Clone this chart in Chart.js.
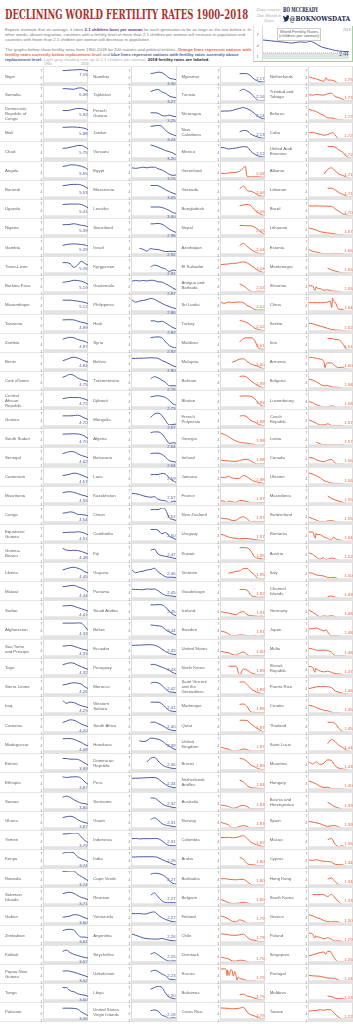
<!DOCTYPE html>
<html>
<head>
<meta charset="utf-8">
<script src="https://cdn.jsdelivr.net/npm/chart.js@4.4.1/dist/chart.umd.min.js"></script>
<style>
    body { margin: 0; width: 353px; height: 1024px; position: relative; overflow: hidden; background: #fff;
           font-family: "Liberation Sans", Arial, sans-serif; }
    .abs { position: absolute; white-space: nowrap; transform-origin: 0 0; }
    #title { left: 5px; top: 8px; font: bold 12px "DejaVu Serif"; color: #a8322b; }
    #source { left: 256px; top: 7px; width: 26px; text-align: center; font: italic 4.4px/5.6px "Liberation Sans"; color: #aaa; white-space: normal; }
    #author1 { left: 283px; top: 5px; font: bold 7px "DejaVu Serif Condensed"; color: #1d2b4c; }
    #author2 { left: 283px; top: 13px; font: bold 8px "DejaVu Serif Condensed"; color: #1d2b4c; }
    .intro { left: 5px; font-size: 4.3px; line-height: 5.2px; color: #7a7a7a; }
    #world { position: absolute; left: 253px; top: 26px; width: 98px; height: 35px;
             border-left: 1px solid #ddd; border-right: 1px solid #9fd49f; border-bottom: 1px solid #9fd49f; }
    #worldTitle { left: 277px; top: 28px; width: 42px; padding: 0.5px 0; border: 1px solid #ccc; background: #fff;
                  text-align: center; font-size: 4.3px; line-height: 4.8px; color: #666; }
    .cell { position: absolute; width: 88.25px; height: 19.12px; box-sizing: border-box;
            border-bottom: 1px solid #e6e6e6; border-right: 1px solid #dcdcdc; }
    .name { position: absolute; left: 5px; top: 0; height: 18px; width: 34px; display: flex; align-items: center;
            font-size: 4.3px; line-height: 5px; color: #666; white-space: pre-line; }
    .cell canvas { position: absolute; left: 37px; top: 0; }
    .yr { position: absolute; top: 62px; font-size: 3.4px; color: #999; }
</style>
</head>
<body>
<div id="title" class="abs">DECLINING WORLD FERTILITY RATES 1900–2018</div>
<div id="source" class="abs">Data source: Our World in Data</div>
<div id="author1" class="abs">BO MCCREADY</div>
<div id="author2" class="abs"><svg width="8" height="7" viewBox="0 0 24 20" style="vertical-align:-0.5px"><path fill="#1d2b4c" d="M24 2.4a9.9 9.9 0 0 1-2.8.8A4.9 4.9 0 0 0 23.3.4a9.9 9.9 0 0 1-3.1 1.2A4.9 4.9 0 0 0 11.8 6 14 14 0 0 1 1.7.9a4.9 4.9 0 0 0 1.5 6.6A4.9 4.9 0 0 1 1 6.9a4.9 4.9 0 0 0 3.9 4.8 4.9 4.9 0 0 1-2.2.1 4.9 4.9 0 0 0 4.6 3.4A9.9 9.9 0 0 1 0 17.3 14 14 0 0 0 7.5 19.5c9.1 0 14-7.5 14-14v-.6A10 10 0 0 0 24 2.4z"/></svg>@BOKNOWSDATA</div>

<div class="abs intro" id="p1" style="top:26.5px">Experts estimate that on average, it takes <b style="color:#6b3a8c">2.1 children born per woman</b> for each generation to be as large as the one before it. In<br>other words, absent migration, countries with a fertility level of more than 2.1 children per woman will increase in population and<br>countries with fewer than 2.1 children per woman will decrease in population.</div>
<div class="abs intro" id="p2" style="top:47px">The graphs below show fertility rates from 1900-2018 for 200 nations and political entities. <b style="color:#f0643c">Orange lines represent nations with<br>fertility rates currently below replacement level</b> and <b style="color:#4b5aa5">blue lines represent nations with fertility rates currently above<br>replacement level.</b> <span style="color:#b0b0b0">Light gray shading runs up to 2.1 children per woman.</span> <b style="color:#222">2018 fertility rates are labeled.</b></div>

<div id="world"><canvas id="worldChart" width="98" height="35"></canvas></div>
<div id="worldTitle" class="abs">World Fertility Rates<br>(children per woman)</div>
<div class="abs" style="left:343px;top:28px;font-size:3.4px;color:#999">2018</div>
<div class="yr" style="left:44px">1900</div>
<div class="yr" style="left:81px">2018</div>

<script>
// sample years shared by every series; _ = no data for that year
const _ = null;
const YEARS = [1900, 1910, 1920, 1930, 1940, 1950, 1960, 1970, 1980, 1990, 2000, 2010, 2018];

const worldSeries = [5.5, 5.3, 5.1, 4.9, 4.7, 5.0, 4.9, 4.8, 3.7, 3.2, 2.7, 2.5, 2.44];

const col1Names = ["Niger", "Somalia", "Democratic\nRepublic of\nCongo", "Mali", "Chad", "Angola", "Burundi", "Uganda",
    "Nigeria", "Gambia", "Timor-Leste", "Burkina Faso", "Mozambique", "Tanzania", "Zambia", "Benin", "Cote d'Ivoire",
    "Central\nAfrican\nRepublic", "Guinea", "South Sudan", "Senegal", "Cameroon", "Mauritania", "Congo",
    "Equatorial\nGuinea", "Guinea-\nBissau", "Liberia", "Malawi", "Sudan", "Afghanistan", "Sao Tome\nand Principe",
    "Togo", "Sierra Leone", "Iraq", "Comoros", "Madagascar", "Eritrea", "Ethiopia", "Samoa", "Ghana", "Yemen",
    "Kenya", "Rwanda", "Solomon\nIslands", "Gabon", "Zimbabwe", "Kiribati", "Papua New\nGuinea", "Tonga", "Pakistan"];
const col1Series = [
    [_,_,_,_,_, 7.3, 7.4, 7.5, 7.6, 7.7, 7.7, 7.5, 7.15],
    [_,_,_,_,_, 7.25, 7.25, 7.1, 7.0, 7.5, 7.6, 6.9, 6.08],
    [_,_,_,_,_, 6.0, 6.0, 6.2, 6.6, 6.9, 6.9, 6.5, 5.92],
    [_,_,_,_,_, 7.0, 7.0, 7.1, 7.1, 7.0, 6.8, 6.5, 5.88],
    [_,_,_,_,_, 6.1, 6.2, 6.5, 6.9, 7.3, 7.4, 6.7, 5.75],
    [_,_,_,_,_, 6.9, 7.2, 7.6, 7.6, 7.4, 7.0, 6.4, 5.55],
    [_,_,_,_,_, 6.8, 7.0, 7.3, 7.4, 7.4, 7.1, 6.4, 5.53],
    [_,_,_,_,_, 6.9, 7.0, 7.1, 7.1, 7.1, 6.9, 6.2, 5.41],
    [_,_,_,_,_, 6.4, 6.4, 6.5, 6.8, 6.5, 6.1, 5.9, 5.39],
    [_,_,_,_,_, 5.6, 6.0, 6.2, 6.3, 6.2, 6.0, 5.8, 5.29],
    [_,_,_,_,_, 6.4, 6.4, 5.9, 4.3, 5.3, 7.0, 6.0, 5.26],
    [_,_,_,_,_, 6.1, 6.3, 6.6, 7.0, 6.9, 6.6, 6.0, 5.19],
    [_,_,_,_,_, 6.6, 6.6, 6.6, 6.4, 6.2, 5.9, 5.6, 5.12],
    [_,_,_,_,_, 6.7, 6.8, 6.8, 6.7, 6.2, 5.7, 5.4, 4.89],
    [_,_,_,_,_, 6.6, 7.1, 7.4, 7.2, 6.5, 6.0, 5.6, 4.87],
    [_,_,_,_,_, 5.5, 6.0, 6.7, 7.0, 6.7, 6.0, 5.3, 4.84],
    [_,_,_,_,_, 6.5, 7.2, 7.9, 7.4, 6.3, 5.6, 5.1, 4.75],
    [_,_,_,_,_, 5.5, 5.8, 6.0, 6.0, 6.0, 5.8, 5.3, 4.72],
    [_,_,_,_,_, 6.3, 6.3, 6.3, 6.4, 6.6, 6.1, 5.2, 4.70],
    [_,_,_,_,_, 6.6, 6.7, 6.7, 6.8, 6.7, 6.4, 5.6, 4.70],
    [_,_,_,_,_, 6.4, 6.9, 7.3, 7.2, 6.4, 5.6, 5.1, 4.62],
    [_,_,_,_,_, 5.6, 5.8, 6.2, 6.6, 6.4, 5.8, 5.1, 4.57],
    [_,_,_,_,_, 6.3, 6.7, 6.8, 6.5, 6.0, 5.4, 5.0, 4.55],
    [_,_,_,_,_, 5.7, 5.9, 6.3, 6.0, 5.2, 5.1, 4.9, 4.54],
    [_,_,_,_,_, 5.5, 5.6, 5.7, 5.7, 5.9, 5.7, 5.2, 4.51],
    [_,_,_,_,_, 7.0, 6.2, 6.0, 6.1, 6.0, 5.6, 5.0, 4.48],
    [_,_,_,_,_, 5.8, 6.3, 6.8, 7.0, 6.6, 6.0, 5.0, 4.45],
    [_,_,_,_,_, 6.8, 7.0, 7.3, 7.4, 6.8, 6.2, 5.6, 4.44],
    [_,_,_,_,_, 6.7, 6.8, 6.9, 6.6, 6.0, 5.5, 4.9, 4.41],
    [_,_,_,_,_, 7.5, 7.5, 7.5, 7.5, 7.6, 7.5, 5.9, 4.33],
    [_,_,_,_,_, 6.2, 6.3, 6.5, 6.1, 5.6, 5.0, 4.6, 4.33],
    [_,_,_,_,_, 6.4, 6.8, 7.2, 7.0, 6.2, 5.5, 4.8, 4.32],
    [_,_,_,_,_, 5.8, 6.1, 6.5, 6.8, 6.6, 6.2, 4.9, 4.26],
    [_,_,_,_,_, 7.4, 6.1, 6.6, 6.4, 5.7, 5.0, 4.6, 4.25],
    [_,_,_,_,_, 6.0, 6.6, 7.2, 7.0, 6.3, 5.3, 4.7, 4.20],
    [_,_,_,_,_, 7.2, 7.3, 7.3, 7.0, 6.3, 5.6, 4.6, 4.08],
    [_,_,_,_,_, 6.9, 6.9, 6.6, 6.6, 6.5, 5.8, 4.8, 3.99],
    [_,_,_,_,_, 7.2, 6.9, 7.1, 7.2, 7.2, 6.5, 4.9, 3.87],
    [_,_,_,_,_, 7.0, 7.5, 7.0, 5.9, 5.1, 4.4, 4.2, 3.85],
    [_,_,_,_,_, 6.4, 6.8, 7.0, 6.6, 5.5, 4.7, 4.2, 3.87],
    [_,_,_,_,_, 7.6, 7.6, 7.9, 8.0, 7.9, 6.3, 4.6, 3.79],
    [_,_,_,_,_, 7.4, 7.9, 7.9, 7.6, 5.9, 5.0, 4.4, 3.74],
    [_,_,_,_,_, 7.8, 7.9, 8.0, 8.0, 6.6, 5.6, 4.6, 3.74],
    [_,_,_,_,_, 6.4, 6.8, 7.0, 6.5, 5.6, 4.7, 4.3, 3.71],
    [_,_,_,_,_, 4.4, 4.6, 4.9, 5.5, 5.4, 4.8, 4.1, 3.60],
    [_,_,_,_,_, 6.8, 7.3, 7.4, 7.1, 5.2, 4.0, 4.0, 3.61],
    [_,_,_,_,_, 6.5, 7.1, 6.0, 5.2, 4.7, 4.2, 3.8, 3.57],
    [_,_,_,_,_, 6.2, 6.3, 6.1, 5.7, 5.2, 4.6, 4.1, 3.52],
    [_,_,_,_,_, 7.3, 7.3, 5.9, 5.5, 4.6, 4.2, 3.9, 3.50],
    [_,_,_,_,_, 6.6, 6.6, 6.6, 6.5, 6.2, 5.0, 4.0, 3.35]
];

const col2Names = ["Namibia", "Tajikistan", "French\nGuiana", "Jordan", "Vanuatu", "Egypt", "Micronesia", "Lesotho",
    "Swaziland", "Israel", "Kyrgyzstan", "Guatemala", "Philippines", "Haiti", "Syria", "Bolivia", "Turkmenistan",
    "Djibouti", "Mongolia", "Algeria", "Botswana", "Laos", "Kazakhstan", "Oman", "Cambodia", "Fiji", "Guyana",
    "Panama", "Saudi Arabia", "Belize", "Ecuador", "Paraguay", "Morocco", "Western\nSahara", "South Africa",
    "Honduras", "Dominican\nRepublic", "Peru", "Suriname", "Guam", "Indonesia", "India", "Cape Verde", "Reunion",
    "Venezuela", "Argentina", "Seychelles", "Uzbekistan", "Libya", "United States\nVirgin Islands"];
const col2Series = [
    [_,_,_,_,_, 6.0, 6.2, 6.6, 6.4, 5.3, 4.0, 3.6, 3.30],
    [_,_,_,_,_, 6.0, 6.6, 6.9, 5.8, 5.2, 4.0, 3.5, 3.27],
    [_,_,_,_,_, 5.0, 5.0, 4.8, 3.8, 3.6, 4.0, 3.5, 3.25],
    [_,_,_,_,_, 7.4, 7.6, 7.8, 7.4, 5.6, 4.4, 3.7, 3.24],
    [_,_,_,_,_, 7.6, 7.1, 6.5, 5.8, 5.1, 4.6, 4.0, 3.20],
    [6.3, 6.1, 6.3, 6.6, 6.3, 6.6, 6.6, 5.9, 5.4, 4.5, 3.4, 3.0, 3.15],
    [_,_,_,_,_, 6.9, 6.9, 6.8, 6.0, 5.0, 4.2, 3.5, 3.05],
    [_,_,_,_,_, 5.8, 5.8, 5.8, 5.6, 5.0, 4.3, 3.3, 3.00],
    [_,_,_,_,_, 6.7, 6.8, 6.9, 6.6, 5.6, 4.4, 3.5, 2.98],
    [_,_, 4.3, 3.9, 3.1, 4.2, 3.9, 3.8, 3.3, 2.9, 3.0, 3.0, 2.92],
    [_,_,_,_,_, 4.5, 5.3, 4.9, 4.1, 3.6, 2.5, 3.1, 2.91],
    [6.6, 6.9, 6.7, 6.9, 6.7, 7.0, 6.9, 6.3, 6.2, 5.4, 4.6, 3.5, 2.87],
    [6.7, 5.7, 6.2, 6.5, 6.8, 7.4, 7.0, 6.1, 5.2, 4.4, 3.8, 3.2, 2.86],
    [_,_,_,_,_, 6.3, 6.3, 5.8, 6.1, 5.4, 4.3, 3.3, 2.82],
    [_,_,_,_,_, 7.3, 7.5, 7.6, 7.2, 5.4, 3.8, 3.0, 2.82],
    [6.5, 6.5, 6.6, 6.6, 6.7, 6.8, 6.7, 6.5, 5.6, 4.9, 4.1, 3.2, 2.80],
    [_,_,_,_,_, 6.0, 6.8, 6.3, 5.3, 4.3, 2.8, 2.8, 2.76],
    [_,_,_,_,_, 6.3, 6.6, 6.8, 6.5, 6.0, 4.7, 3.2, 2.73],
    [_,_,_,_,_, 5.6, 7.1, 7.5, 6.5, 4.2, 2.3, 2.5, 2.67],
    [_,_,_,_,_, 7.3, 7.6, 7.6, 6.7, 4.7, 2.5, 2.8, 2.64],
    [_,_,_,_,_, 6.5, 6.6, 6.6, 6.1, 4.8, 3.3, 2.9, 2.64],
    [_,_,_,_,_, 5.9, 6.0, 6.0, 6.5, 6.2, 4.5, 3.2, 2.59],
    [6.0, 5.9, 5.6, 5.0, 4.6, 4.4, 4.6, 3.5, 3.0, 2.8, 1.9, 2.6, 2.57],
    [_,_,_,_,_, 7.3, 7.3, 7.3, 8.0, 7.2, 3.7, 2.9, 2.52],
    [_,_,_,_,_, 6.9, 6.9, 6.6, 5.0, 5.6, 3.9, 3.1, 2.50],
    [_,_,_,_,_, 6.2, 6.6, 4.4, 3.8, 3.4, 3.1, 2.7, 2.47],
    [5.8, 4.6, 5.0, 5.3, 5.8, 6.0, 6.6, 5.0, 3.8, 2.8, 2.6, 2.6, 2.46],
    [5.7, 5.6, 5.5, 5.5, 5.8, 5.7, 5.8, 5.0, 3.8, 3.0, 2.8, 2.6, 2.45],
    [_,_,_,_,_, 7.2, 7.2, 7.3, 7.2, 6.2, 4.4, 2.9, 2.45],
    [_,_,_,_,_, 6.7, 6.5, 6.3, 6.0, 4.6, 3.7, 2.7, 2.44],
    [6.5, 6.6, 6.6, 6.7, 6.8, 6.8, 6.6, 6.0, 4.9, 3.8, 3.0, 2.6, 2.43],
    [_,_,_,_,_, 6.5, 6.5, 5.9, 5.3, 4.6, 3.9, 2.8, 2.43],
    [_,_,_,_,_, 6.6, 7.0, 6.7, 5.7, 4.0, 2.8, 2.6, 2.42],
    [_,_,_,_,_, 6.6, 6.6, 6.6, 5.9, 4.3, 2.9, 2.6, 2.41],
    [_,_,_,_,_, 6.1, 6.2, 5.5, 4.8, 3.8, 2.9, 2.5, 2.40],
    [_,_, 6.3, 6.0, 6.4, 7.5, 7.4, 7.0, 6.3, 5.0, 3.9, 2.9, 2.39],
    [_,_,_,_, 5.4, 7.0, 7.4, 5.8, 4.2, 3.3, 2.8, 2.5, 2.36],
    [6.5, 6.6, 6.6, 6.7, 6.8, 6.9, 6.9, 6.3, 5.0, 3.8, 2.9, 2.5, 2.34],
    [_,_,_,_,_, 6.7, 6.6, 5.6, 4.2, 3.3, 2.9, 2.5, 2.32],
    [_,_,_,_,_, 5.5, 6.3, 5.3, 3.8, 3.1, 2.8, 2.5, 2.31],
    [5.5, 5.6, 5.4, 5.5, 5.5, 5.5, 5.6, 5.5, 4.6, 3.3, 2.5, 2.4, 2.31],
    [5.8, 5.8, 5.9, 5.9, 5.9, 5.9, 5.9, 5.5, 4.7, 4.0, 3.3, 2.6, 2.28],
    [_,_,_,_,_, 6.6, 7.0, 6.9, 6.4, 5.4, 3.7, 2.5, 2.27],
    [_,_,_,_,_, 5.7, 6.7, 5.0, 3.3, 2.5, 2.4, 2.4, 2.27],
    [6.0, 5.9, 6.0, 5.8, 5.9, 6.5, 6.7, 5.4, 4.2, 3.4, 2.8, 2.4, 2.27],
    [5.3, 4.8, 4.2, 3.6, 3.3, 3.2, 3.1, 3.1, 3.4, 3.0, 2.6, 2.4, 2.26],
    [_,_,_,_,_, 5.3, 5.9, 5.0, 3.8, 2.8, 2.2, 2.3, 2.25],
    [_,_,_,_,_, 6.0, 6.6, 6.0, 4.9, 4.2, 2.6, 2.5, 2.23],
    [_,_,_,_,_, 6.6, 7.3, 7.9, 7.4, 4.8, 3.0, 2.5, 2.20],
    [_,_,_,_,_, 5.5, 5.8, 5.3, 3.5, 3.0, 2.1, 2.4, 2.18]
];

const col3Names = ["Myanmar", "Tunisia", "Nicaragua", "New\nCaledonia", "Mexico", "Greenland", "Grenada", "Bangladesh",
    "Nepal", "Azerbaijan", "El Salvador", "Antigua and\nBarbuda", "Sri Lanka", "Turkey", "Maldives", "Malaysia",
    "Bahrain", "Bhutan", "French\nPolynesia", "Georgia", "Ireland", "Jamaica", "France", "New Zealand", "Uruguay",
    "Kuwait", "Vietnam", "Guadeloupe", "Iceland", "Sweden", "United States", "North Korea",
    "Saint Vincent\nand the\nGrenadines", "Martinique", "Qatar", "United\nKingdom", "Brunei", "Netherlands\nAntilles",
    "Australia", "Norway", "Colombia", "Aruba", "Barbados", "Belgium", "Finland", "Chile", "Denmark", "Russia",
    "Bahamas", "Costa Rica"];
const col3Series = [
    [_,_,_,_,_, 5.9, 6.0, 5.9, 4.9, 3.4, 2.6, 2.3, 2.17],
    [_,_,_,_,_, 6.3, 7.0, 6.2, 5.3, 3.4, 2.1, 2.0, 2.16],
    [5.7, 5.8, 5.8, 6.0, 6.5, 7.0, 7.3, 6.8, 6.0, 4.7, 3.3, 2.5, 2.14],
    [_,_,_,_,_, 5.0, 5.6, 5.4, 4.0, 3.2, 2.6, 2.2, 2.13],
    [6.5, 6.3, 5.8, 6.0, 6.2, 6.6, 6.8, 6.7, 4.8, 3.5, 2.7, 2.3, 2.12],
    [3.9, 3.8, 4.0, 4.2, 4.3, 4.9, 6.2, 2.6, 2.3, 2.4, 2.3, 2.2, 2.08],
    [_,_,_,_,_, 5.4, 6.7, 4.7, 4.3, 3.7, 2.6, 2.2, 2.06],
    [_,_,_,_,_, 6.4, 6.7, 6.9, 6.4, 4.5, 3.2, 2.3, 2.05],
    [_,_,_,_,_, 6.0, 6.0, 5.9, 5.9, 5.3, 4.2, 2.7, 2.05],
    [_,_,_,_,_, 5.5, 6.5, 5.2, 3.8, 2.9, 2.1, 2.0, 2.04],
    [5.5, 5.7, 5.8, 6.1, 6.1, 6.5, 6.7, 6.3, 5.2, 4.0, 2.9, 2.2, 2.04],
    [_,_,_,_,_, 5.4, 4.6, 3.3, 2.1, 2.0, 2.2, 2.1, 2.03],
    [5.6, 5.2, 5.8, 5.6, 5.7, 5.8, 5.5, 4.3, 3.5, 2.5, 2.2, 2.3, 2.02],
    [_,_,_,_,_, 6.5, 6.1, 5.5, 4.4, 3.1, 2.5, 2.1, 2.02],
    [_,_,_,_,_, 5.4, 6.9, 7.2, 7.2, 6.1, 2.8, 2.2, 2.01],
    [_,_,_, 4.8, 5.4, 6.2, 6.3, 5.2, 4.0, 3.5, 3.0, 2.1, 2.00],
    [_,_,_,_,_, 6.9, 7.1, 6.5, 5.0, 3.8, 2.8, 2.1, 1.99],
    [_,_,_,_,_, 6.6, 6.7, 6.7, 6.5, 5.6, 3.6, 2.3, 1.99],
    [_,_,_,_,_, 6.2, 6.4, 5.8, 4.2, 3.6, 2.6, 2.1, 1.98],
    [7.0, 6.4, 5.6, 4.4, 3.6, 3.0, 2.8, 2.6, 2.3, 2.1, 1.5, 1.8, 1.98],
    [3.5, 3.3, 3.2, 3.0, 3.0, 3.4, 3.8, 3.9, 3.2, 2.1, 1.9, 2.0, 1.98],
    [4.8, 4.6, 5.2, 4.5, 4.3, 4.3, 5.6, 5.0, 3.8, 3.0, 2.6, 2.2, 1.98],
    [2.8, 2.5, 2.7, 2.3, 2.1, 2.9, 2.8, 2.5, 1.9, 1.8, 1.9, 2.0, 1.97],
    [3.6, 3.3, 3.1, 2.5, 2.6, 3.6, 4.1, 3.2, 2.0, 2.1, 1.9, 2.1, 1.97],
    [4.8, 4.3, 3.6, 3.2, 3.0, 2.8, 2.9, 2.9, 2.7, 2.5, 2.2, 2.0, 1.97],
    [_,_,_,_,_, 7.2, 7.3, 7.2, 5.8, 3.2, 2.6, 2.3, 1.95],
    [_,_, 4.4, 4.7, 5.2, 5.4, 6.4, 6.5, 5.0, 3.6, 2.0, 1.9, 1.95],
    [_,_,_,_,_, 5.6, 5.6, 5.3, 3.0, 2.4, 2.1, 2.2, 1.92],
    [4.2, 3.8, 3.6, 3.2, 2.8, 3.8, 4.2, 2.9, 2.4, 2.3, 2.1, 2.2, 1.91],
    [4.0, 3.6, 2.8, 2.0, 2.0, 2.3, 2.2, 2.0, 1.7, 2.1, 1.6, 2.0, 1.91],
    [3.9, 3.5, 3.3, 2.5, 2.2, 3.0, 3.6, 2.5, 1.8, 2.1, 2.0, 1.9, 1.90],
    [_,_, 5.8, 5.6, 5.8, 1.8, 4.5, 4.0, 2.8, 2.3, 2.0, 2.0, 1.89],
    [_,_,_,_,_, 7.0, 7.2, 6.0, 4.2, 3.1, 2.4, 2.0, 1.89],
    [_,_,_,_,_, 5.6, 5.8, 4.6, 2.3, 2.1, 1.9, 2.0, 1.88],
    [_,_,_,_,_, 7.0, 7.0, 6.9, 5.4, 4.2, 3.1, 2.1, 1.87],
    [3.5, 3.0, 2.6, 2.0, 1.9, 2.2, 2.7, 2.4, 1.9, 1.8, 1.7, 1.9, 1.87],
    [_,_,_,_,_, 7.0, 6.6, 5.6, 4.0, 3.3, 2.4, 2.0, 1.85],
    [_,_,_,_,_, 5.7, 5.0, 3.3, 2.4, 2.3, 2.1, 2.0, 1.84],
    [3.6, 3.3, 3.0, 2.2, 2.3, 3.1, 3.4, 2.9, 1.9, 1.9, 1.8, 1.9, 1.83],
    [4.3, 3.8, 3.2, 2.0, 2.0, 2.5, 2.9, 2.5, 1.7, 1.9, 1.8, 1.9, 1.83],
    [6.0, 6.0, 6.1, 5.9, 6.0, 6.5, 6.8, 5.6, 4.0, 3.1, 2.6, 2.1, 1.82],
    [_,_,_,_,_, 5.6, 4.8, 2.9, 2.4, 2.3, 1.9, 1.8, 1.80],
    [4.6, 4.6, 4.4, 4.2, 4.1, 4.3, 4.3, 3.3, 2.1, 1.8, 1.8, 1.8, 1.80],
    [3.8, 3.2, 2.4, 2.1, 2.1, 2.3, 2.6, 2.3, 1.7, 1.6, 1.7, 1.8, 1.80],
    [4.8, 4.4, 3.6, 2.6, 2.3, 3.2, 2.7, 1.8, 1.6, 1.8, 1.7, 1.9, 1.79],
    [5.4, 5.3, 5.0, 4.8, 4.8, 5.0, 5.3, 4.0, 2.8, 2.6, 2.1, 1.9, 1.78],
    [4.0, 3.6, 3.2, 2.3, 2.2, 2.6, 2.5, 2.0, 1.5, 1.7, 1.8, 1.9, 1.76],
    [7.1, 7.2, 5.0, 6.3, 4.6, 2.9, 2.6, 2.0, 1.9, 1.9, 1.2, 1.6, 1.76],
    [_,_,_,_,_, 4.1, 4.4, 3.6, 3.2, 2.6, 2.1, 1.9, 1.75],
    [6.7, 6.6, 6.5, 6.3, 6.4, 6.6, 7.0, 4.9, 3.7, 3.2, 2.4, 1.9, 1.75]
];

const col4Names = ["Netherlands", "Trinidad and\nTobago", "Belarus", "Cuba", "United Arab\nEmirates", "Albania",
    "Lebanon", "Brazil", "Lithuania", "Estonia", "Montenegro", "Slovenia", "China", "Serbia", "Iran", "Armenia",
    "Bulgaria", "Luxembourg", "Czech\nRepublic", "Latvia", "Canada", "Ukraine", "Macedonia", "Switzerland",
    "Romania", "Austria", "Italy", "Channel\nIslands", "Germany", "Japan", "Malta", "Slovak\nRepublic",
    "Puerto Rico", "Croatia", "Thailand", "Saint Lucia", "Mauritius", "Hungary", "Bosnia and\nHerzegovina", "Spain",
    "Macao", "Cyprus", "Hong Kong", "South Korea", "Greece", "Poland", "Singapore", "Portugal", "Moldova", "Taiwan"];
const col4Series = [
    [4.5, 4.0, 3.6, 3.0, 2.6, 3.1, 3.1, 2.6, 1.6, 1.6, 1.7, 1.8, 1.75],
    [4.6, 4.4, 4.7, 4.5, 4.4, 5.0, 5.3, 3.8, 3.3, 2.6, 1.8, 1.8, 1.73],
    [6.5, 6.0, 5.5, 4.6, 3.8, 2.8, 2.7, 2.3, 2.0, 1.9, 1.3, 1.5, 1.72],
    [4.6, 4.8, 4.3, 3.9, 3.5, 3.8, 4.5, 3.6, 1.8, 1.8, 1.6, 1.6, 1.72],
    [_,_,_,_,_, 6.9, 6.9, 6.6, 5.4, 4.4, 2.6, 1.8, 1.72],
    [_,_,_,_, 3.5, 5.6, 6.3, 5.0, 3.6, 3.0, 2.2, 1.6, 1.71],
    [_,_,_,_,_, 5.7, 5.7, 5.0, 3.8, 3.0, 2.2, 1.7, 1.71],
    [6.3, 6.2, 6.3, 6.2, 6.2, 6.1, 6.1, 5.0, 3.9, 2.8, 2.3, 1.8, 1.70],
    [4.9, 4.5, 4.0, 3.3, 3.0, 2.7, 2.6, 2.3, 2.0, 2.0, 1.4, 1.5, 1.67],
    [3.8, 3.0, 2.7, 2.2, 2.0, 2.0, 2.0, 2.1, 2.0, 2.0, 1.4, 1.7, 1.66],
    [_,_,_,_,_, 3.9, 3.2, 2.7, 2.2, 1.9, 1.8, 1.7, 1.65],
    [4.6, 4.4, 3.8, 3.3, 2.6, 2.8, 2.3, 2.2, 2.0, 1.5, 1.2, 1.6, 1.65],
    [5.5, 5.5, 5.5, 5.5, 5.5, 5.8, 4.0, 5.7, 2.6, 2.5, 1.6, 1.6, 1.64],
    [5.3, 5.0, 4.5, 4.0, 3.5, 3.0, 2.5, 2.3, 2.2, 2.0, 1.7, 1.5, 1.62],
    [_,_,_,_,_, 6.9, 6.9, 6.5, 6.3, 4.8, 2.2, 1.8, 1.61],
    [7.0, 6.9, 6.5, 6.2, 5.0, 4.5, 4.5, 3.2, 2.4, 2.6, 1.7, 1.6, 1.60],
    [5.6, 5.3, 4.5, 3.5, 2.8, 2.9, 2.3, 2.2, 2.1, 1.8, 1.3, 1.5, 1.58],
    [4.2, 3.7, 2.8, 2.2, 1.8, 1.9, 2.3, 2.0, 1.5, 1.6, 1.8, 1.6, 1.58],
    [4.5, 3.8, 3.0, 2.3, 2.3, 2.8, 2.1, 1.9, 2.1, 1.9, 1.1, 1.5, 1.57],
    [_,_, 3.1, 2.3, 2.0, 2.0, 1.9, 2.0, 1.9, 2.0, 1.2, 1.4, 1.57],
    [4.6, 4.5, 3.6, 3.1, 2.8, 3.5, 3.8, 2.3, 1.7, 1.8, 1.5, 1.6, 1.56],
    [6.7, 6.2, 5.4, 4.6, 3.3, 2.8, 2.2, 2.1, 2.0, 1.9, 1.1, 1.4, 1.56],
    [_,_,_,_,_, 4.9, 3.9, 3.2, 2.6, 2.2, 1.7, 1.5, 1.55],
    [3.9, 3.3, 2.6, 2.0, 1.9, 2.3, 2.4, 2.1, 1.5, 1.6, 1.5, 1.5, 1.55],
    [5.8, 5.8, 4.8, 4.6, 3.6, 3.0, 2.3, 2.9, 2.4, 1.8, 1.3, 1.5, 1.54],
    [4.9, 4.3, 3.0, 2.2, 2.7, 2.1, 2.7, 2.3, 1.6, 1.5, 1.4, 1.4, 1.52],
    [4.6, 4.3, 3.6, 3.4, 3.1, 2.5, 2.4, 2.4, 1.6, 1.3, 1.2, 1.4, 1.50],
    [_,_,_,_,_, 2.4, 2.7, 2.2, 1.5, 1.5, 1.4, 1.5, 1.49],
    [4.9, 3.9, 2.8, 2.0, 2.3, 2.1, 2.4, 2.0, 1.5, 1.4, 1.4, 1.4, 1.48],
    [4.9, 5.1, 5.3, 4.7, 4.1, 3.6, 2.0, 2.1, 1.8, 1.5, 1.4, 1.4, 1.48],
    [5.2, 4.9, 4.4, 4.3, 4.4, 4.2, 3.6, 2.0, 2.0, 2.0, 1.7, 1.4, 1.48],
    [5.6, 5.2, 4.4, 3.6, 3.2, 3.5, 3.0, 2.4, 2.3, 2.1, 1.3, 1.4, 1.47],
    [4.2, 4.6, 5.0, 5.1, 5.2, 5.0, 4.7, 3.2, 2.6, 2.2, 1.9, 1.6, 1.46],
    [5.2, 4.9, 4.2, 3.6, 3.0, 2.8, 2.2, 1.9, 1.9, 1.7, 1.4, 1.5, 1.45],
    [_,_,_,_,_, 6.1, 6.1, 5.6, 3.4, 2.1, 1.7, 1.5, 1.45],
    [_,_,_,_,_, 5.0, 6.9, 6.0, 4.3, 3.4, 2.2, 1.6, 1.44],
    [5.3, 4.5, 5.4, 4.2, 4.9, 6.3, 6.0, 3.7, 2.6, 2.3, 2.0, 1.5, 1.43],
    [5.3, 4.8, 4.0, 3.0, 2.5, 2.6, 2.0, 2.0, 1.9, 1.8, 1.3, 1.3, 1.40],
    [_,_,_,_,_, 4.8, 3.8, 2.8, 2.2, 1.7, 1.4, 1.3, 1.39],
    [4.7, 4.4, 4.1, 3.7, 3.0, 2.5, 2.8, 2.9, 2.2, 1.4, 1.2, 1.4, 1.39],
    [_,_,_,_,_, 5.0, 5.6, 3.0, 2.0, 2.4, 1.1, 1.0, 1.36],
    [4.5, 4.3, 4.6, 4.2, 3.9, 3.8, 3.5, 2.6, 2.4, 2.4, 1.6, 1.4, 1.34],
    [_,_,_,_,_, 4.4, 5.0, 3.3, 2.0, 1.3, 1.0, 1.1, 1.34],
    [_, 6.0, 6.0, 6.0, 5.9, 5.1, 6.1, 4.5, 2.7, 1.6, 1.5, 1.2, 1.33],
    [5.5, 5.0, 4.2, 3.7, 2.9, 2.5, 2.3, 2.4, 2.2, 1.4, 1.3, 1.5, 1.30],
    [5.8, 5.2, 4.2, 3.9, 3.2, 3.7, 3.0, 2.2, 2.3, 2.0, 1.4, 1.4, 1.29],
    [4.5, 5.0, 5.5, 6.0, 6.2, 6.5, 5.8, 3.1, 1.8, 1.8, 1.4, 1.2, 1.26],
    [4.3, 4.1, 4.0, 3.9, 3.5, 3.1, 3.1, 2.9, 2.2, 1.5, 1.5, 1.4, 1.24],
    [_,_,_,_,_, 3.5, 3.4, 2.6, 2.4, 2.4, 1.6, 1.3, 1.23],
    [5.3, 5.5, 5.6, 5.9, 5.7, 6.0, 5.7, 4.0, 2.5, 1.8, 1.7, 0.9, 1.22]
];

// extra yearly readings where a line has a sharp wartime / famine swing
const spikes = [
    ["Russia", 1914, 7.0], ["Russia", 1916, 4.2], ["Russia", 1918, 6.6], ["Russia", 1922, 4.3],
    ["Russia", 1926, 6.8], ["Russia", 1933, 4.0], ["Russia", 1937, 6.0], ["Russia", 1943, 2.3], ["Russia", 1946, 3.5],
    ["China", 1957, 6.2], ["China", 1961, 3.3], ["China", 1963, 7.5], ["China", 1966, 6.2],
    ["Armenia", 1943, 2.4], ["Armenia", 1946, 4.0],
    ["Romania", 1917, 3.0], ["Romania", 1919, 5.2], ["Romania", 1967, 3.7],
    ["Slovenia", 1916, 2.5], ["Slovenia", 1919, 4.2],
    ["Slovak\nRepublic", 1916, 3.0], ["Slovak\nRepublic", 1918, 4.8],
    ["Poland", 1915, 3.5], ["Poland", 1918, 4.6],
    ["France", 1916, 1.3], ["Netherlands", 1946, 4.2], ["Japan", 1947, 4.5],
    ["Greenland", 1965, 7.0], ["Cuba", 1963, 4.7],
    ["Austria", 1939, 2.9], ["Austria", 1945, 1.9],
    ["Singapore", 1945, 5.2], ["Singapore", 1957, 6.5]
];

const worldSpikes = [[1963, 5.2]];

const BLUE = '#4b5aa5';
const ORANGE = '#f0643c';
const BAND = '#e3e3e3';
const REPLACEMENT = 2.1;

const columns = [
    { names: col1Names, series: col1Series },
    { names: col2Names, series: col2Series },
    { names: col3Names, series: col3Series },
    { names: col4Names, series: col4Series }
];

function toPoints(values, extra) {
    const pts = [];
    YEARS.forEach((year, i) => {
        if (values[i] !== null) pts.push({ x: year, y: values[i] });
    });
    extra.forEach(([year, v]) => pts.push({ x: year, y: v }));
    return pts.sort((a, b) => a.x - b.x);
}

// tick labels 7/4/1, axis rule and the 2018 value label
const cellDecor = {
    id: 'cellDecor',
    afterDatasetsDraw(chart, args, opts) {
        const { ctx, chartArea, scales: { x, y } } = chart;
        ctx.save();
        ctx.strokeStyle = '#dcdcdc';
        ctx.lineWidth = 1;
        ctx.beginPath();
        ctx.moveTo(Math.round(chartArea.left) - 0.5, 0);
        ctx.lineTo(Math.round(chartArea.left) - 0.5, chart.height);
        ctx.stroke();

        ctx.fillStyle = '#8c8c8c';
        ctx.font = opts.tickFont;
        ctx.textAlign = 'right';
        ctx.textBaseline = 'middle';
        [1, 4, 7].forEach(v => ctx.fillText(String(v), chartArea.left - opts.tickGap, y.getPixelForValue(v)));

        const px = x.getPixelForValue(2018);
        const py = y.getPixelForValue(opts.value);
        const dy = opts.value >= 2.6 ? opts.offset : -opts.offset;
        ctx.fillStyle = opts.color;
        ctx.font = opts.labelFont;
        ctx.fillText(opts.value.toFixed(2), px - 0.5, py + dy);
        ctx.restore();
    }
};

function makeChart(canvas, points, latest, o) {
    const color = latest > REPLACEMENT ? BLUE : ORANGE;
    const datasets = [
        {
            data: [{ x: 1900, y: REPLACEMENT }, { x: 2018, y: REPLACEMENT }],
            fill: 'start', backgroundColor: BAND, borderWidth: o.dotted ? 0.7 : 0,
            borderColor: '#999', borderDash: o.dotted ? [1, 1] : [], pointRadius: 0
        },
        {
            data: points, borderColor: color, borderWidth: o.lineWidth, pointRadius: 0,
            fill: false, cubicInterpolationMode: 'monotone'
        }
    ];
    return new Chart(canvas, {
        type: 'line',
        data: { datasets },
        options: {
            responsive: false,
            animation: false,
            events: [],
            layout: { padding: o.padding },
            plugins: {
                legend: { display: false },
                tooltip: { enabled: false },
                cellDecor: {
                    value: latest, color, tickFont: o.tickFont, tickGap: o.tickGap,
                    labelFont: o.labelFont, offset: o.offset
                }
            },
            scales: {
                x: { type: 'linear', min: 1900, max: 2018, display: false },
                y: { type: 'linear', min: 0.5, max: 8, display: false }
            }
        },
        plugins: [cellDecor]
    });
}

const COL_W = 353 / 4;
const ROW_H = 19.12;
const TOP = 66;

columns.forEach((col, c) => {
    col.names.forEach((name, r) => {
        const values = col.series[r];
        const latest = values[values.length - 1];

        const cell = document.createElement('div');
        cell.className = 'cell';
        cell.style.left = (c * COL_W) + 'px';
        cell.style.top = (TOP + r * ROW_H) + 'px';
        if (r === 0) cell.style.borderTop = '1px solid #e6e6e6';

        const label = document.createElement('div');
        label.className = 'name';
        label.textContent = name;
        cell.appendChild(label);

        const canvas = document.createElement('canvas');
        canvas.width = 51;
        canvas.height = 19;
        cell.appendChild(canvas);
        document.body.appendChild(cell);

        const extra = spikes.filter(s => s[0] === name).map(s => [s[1], s[2]]);
        makeChart(canvas, toPoints(values, extra), latest, {
            padding: { left: 7, right: 0, top: 2, bottom: 0 },
            lineWidth: 1, tickFont: '4px "Liberation Sans"', tickGap: 1.5,
            labelFont: '4.2px "Liberation Sans"', offset: 3.8, dotted: false
        });
    });
});

// world panel
makeChart(document.getElementById('worldChart'), toPoints(worldSeries, worldSpikes),
    worldSeries[worldSeries.length - 1], {
        padding: { left: 9, right: 3, top: 4.5, bottom: 2 },
        lineWidth: 1, tickFont: '4.4px "Liberation Sans"', tickGap: 4,
        labelFont: '4.8px "Liberation Sans"', offset: -3.5, dotted: true
    });

// squeeze header texts to the widths seen in the picture
function fit(id, width) {
    const el = document.getElementById(id);
    el.style.transform = 'scaleX(' + (width / el.scrollWidth) + ')';
}
fit('title', 243);
fit('author1', 35);
fit('author2', 67);
fit('p1', 246);
fit('p2', 246);
</script>
</body>
</html>
